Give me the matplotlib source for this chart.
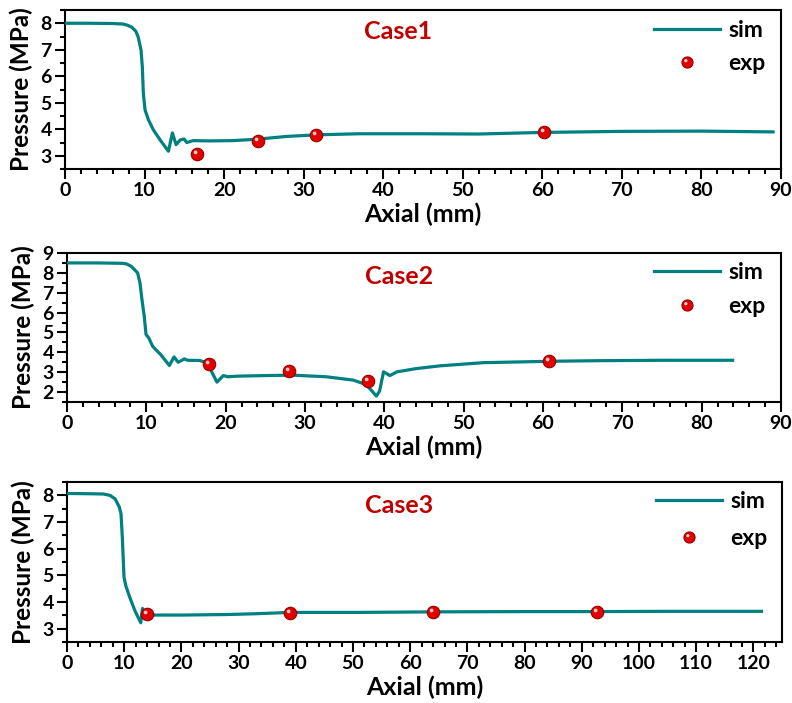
import matplotlib
matplotlib.use('Agg')
import matplotlib.pyplot as plt
from matplotlib.lines import Line2D
from matplotlib.path import Path
from matplotlib.legend_handler import HandlerTuple
from matplotlib.ticker import MultipleLocator

plt.rcParams['font.family'] = ['Lato', 'DejaVu Sans']
plt.rcParams['font.weight'] = 'bold'

SIM_COLOR = "#008080"
EXP_COLOR = "#E00000"
EXP_EDGE = "#980000"
CASE_COLOR = "#C00000"

# Case1
case1_sim_x = [0, 3, 6, 7.3, 7.8, 8.4, 8.9, 9.2, 9.56, 9.72, 9.85, 10.06, 10.48, 11.1, 11.95,
               13.0, 13.5, 13.96, 14.5, 14.97, 15.3, 16.1, 18, 21, 24, 27.9, 31.7, 37, 45,
               52, 60, 70, 80, 89]
case1_sim_y = [8.0, 8.0, 7.99, 7.97, 7.93, 7.85, 7.7, 7.48, 6.98, 6.35, 5.35, 4.73, 4.36, 3.98, 3.6,
               3.17, 3.86, 3.42, 3.6, 3.63, 3.5, 3.57, 3.56, 3.57, 3.62, 3.73, 3.79, 3.83, 3.83,
               3.82, 3.88, 3.92, 3.93, 3.9]
case1_exp_x = [16.6, 24.2, 31.6, 60.2]
case1_exp_y = [3.07, 3.54, 3.77, 3.91]

# Case2
case2_sim_x = [0, 4, 7.0, 7.5, 8.1, 8.9, 9.2, 9.45, 9.74, 9.96, 10.3, 10.8, 11.8, 12.9, 13.5,
               14.0, 14.8, 15.2, 16.7, 17.7, 18.2, 18.9, 19.7, 20.3, 21.4, 25, 28.5, 32.7, 36.1,
               37.7, 39.0, 39.4, 39.9, 40.7, 41.6, 44, 47, 52.5, 61, 67.2, 75, 83.9]
case2_sim_y = [8.5, 8.5, 8.48, 8.45, 8.33, 8.0, 7.49, 6.65, 5.8, 4.9, 4.73, 4.3, 3.89, 3.34, 3.77,
               3.5, 3.67, 3.6, 3.59, 3.47, 3.05, 2.5, 2.83, 2.77, 2.8, 2.83, 2.85, 2.77, 2.6,
               2.38, 1.8, 2.05, 3.02, 2.83, 3.02, 3.18, 3.32, 3.48, 3.55, 3.58, 3.6, 3.6]
case2_exp_x = [17.95, 27.95, 37.9, 60.8]
case2_exp_y = [3.42, 3.05, 2.55, 3.55]

# Case3
case3_sim_x = [0, 4, 6.35, 7.5, 8.4, 9.15, 9.44, 9.67, 9.97, 10.3, 11.0, 11.9, 12.9, 13.2, 13.6,
               15, 20, 27.9, 33, 39, 51, 64, 80, 92.6, 105, 121.4]
case3_sim_y = [8.07, 8.06, 8.05, 8.0, 7.87, 7.56, 7.31, 6.43, 4.92, 4.6, 4.16, 3.66, 3.22, 3.76, 3.54,
               3.51, 3.51, 3.53, 3.56, 3.61, 3.61, 3.63, 3.64, 3.64, 3.65, 3.65]
case3_exp_x = [14.0, 39.0, 64.0, 92.6]
case3_exp_y = [3.55, 3.6, 3.63, 3.63]

# white glint for the shiny balls, kept in the unit-circle frame of the 'o' marker
glint = Path.make_compound_path(
    Path.circle(center=(-0.3, 0.33), radius=0.3),
    Path([[-1, -1], [1, 1]], [Path.MOVETO, Path.MOVETO]))

MARKER_SIZE = 9


def DrawExp(ax, x, y):
    ax.plot(x, y, linestyle="none", marker="o", markersize=MARKER_SIZE,
            markerfacecolor=EXP_COLOR, markeredgecolor=EXP_EDGE, markeredgewidth=0.8, zorder=4)
    ax.plot(x, y, linestyle="none", marker=glint, markersize=MARKER_SIZE,
            markerfacecolor="white", markeredgewidth=0, alpha=0.8, zorder=5)


def SetupAxes(ax, xmax, xlim, ylim):
    ax.set_xlim(0, xlim)
    ax.set_ylim(*ylim)
    ax.xaxis.set_minor_locator(MultipleLocator(2))
    ax.yaxis.set_minor_locator(MultipleLocator(0.5))
    ax.set_xticks(range(0, xmax + 1, 10))
    ax.set_yticks(range(int(ylim[0] + 0.5), int(ylim[1]) + 1))
    ax.tick_params(which="major", direction="out", length=7, width=1.5, labelsize=14, pad=2.5)
    ax.tick_params(which="minor", direction="out", length=3.5, width=1.5)
    for spine in ax.spines.values():
        spine.set_linewidth(1.5)
    ax.set_xlabel("Axial (mm)", fontsize=18, fontweight="bold", labelpad=2.5)
    ax.set_ylabel("Pressure (MPa)", fontsize=17.5, fontweight="bold")
    ax.yaxis.set_label_coords(-0.045, 0.5)


def PlotCase(ax, name, sim_x, sim_y, exp_x, exp_y, title_y, legend_anchor, spacing):
    ax.plot(sim_x, sim_y, color=SIM_COLOR, linewidth=2.3, solid_joinstyle="round", zorder=3)
    DrawExp(ax, exp_x, exp_y)
    ax.text(0.465, title_y, name, transform=ax.transAxes, color=CASE_COLOR,
            fontsize=18, fontweight="bold", ha="center", va="center")

    sim_handle = Line2D([], [], color=SIM_COLOR, linewidth=2.3)
    ball = Line2D([], [], linestyle="none", marker="o", markersize=MARKER_SIZE - 1,
                  markerfacecolor=EXP_COLOR, markeredgecolor=EXP_EDGE, markeredgewidth=0.8)
    shine = Line2D([], [], linestyle="none", marker=glint, markersize=MARKER_SIZE - 1,
                   markerfacecolor="white", markeredgewidth=0, alpha=0.8)
    ax.legend([sim_handle, (ball, shine)], ["sim", "exp"],
              handler_map={tuple: HandlerTuple(ndivide=1)},
              loc="upper right", bbox_to_anchor=legend_anchor, frameon=False,
              fontsize=16.5, handlelength=2.9, handletextpad=0.35,
              labelspacing=spacing, borderpad=0, borderaxespad=0, numpoints=1)


def main():
    fig = plt.figure(figsize=(7.92, 7.03), dpi=100)
    W, H = 792.0, 703.0

    ax1 = fig.add_axes([65 / W, 1 - 169 / H, 716 / W, 159 / H])
    ax2 = fig.add_axes([67 / W, 1 - 402 / H, 714 / W, 149 / H])
    ax3 = fig.add_axes([67 / W, 1 - 642 / H, 715 / W, 160 / H])

    SetupAxes(ax1, 90, 90, (2.5, 8.5))
    SetupAxes(ax2, 90, 90, (1.5, 9.0))
    SetupAxes(ax3, 120, 125, (2.5, 8.5))

    PlotCase(ax1, "Case1", case1_sim_x, case1_sim_y, case1_exp_x, case1_exp_y,
             0.865, (0.978, 0.94), 0.55)
    PlotCase(ax2, "Case2", case2_sim_x, case2_sim_y, case2_exp_x, case2_exp_y,
             0.84, (0.978, 0.94), 0.55)
    PlotCase(ax3, "Case3", case3_sim_x, case3_sim_y, case3_exp_x, case3_exp_y,
             0.855, (0.98, 0.945), 0.7)

    fig.savefig("out.png", dpi=100)
    return 0


if __name__ == "__main__":
    main()
